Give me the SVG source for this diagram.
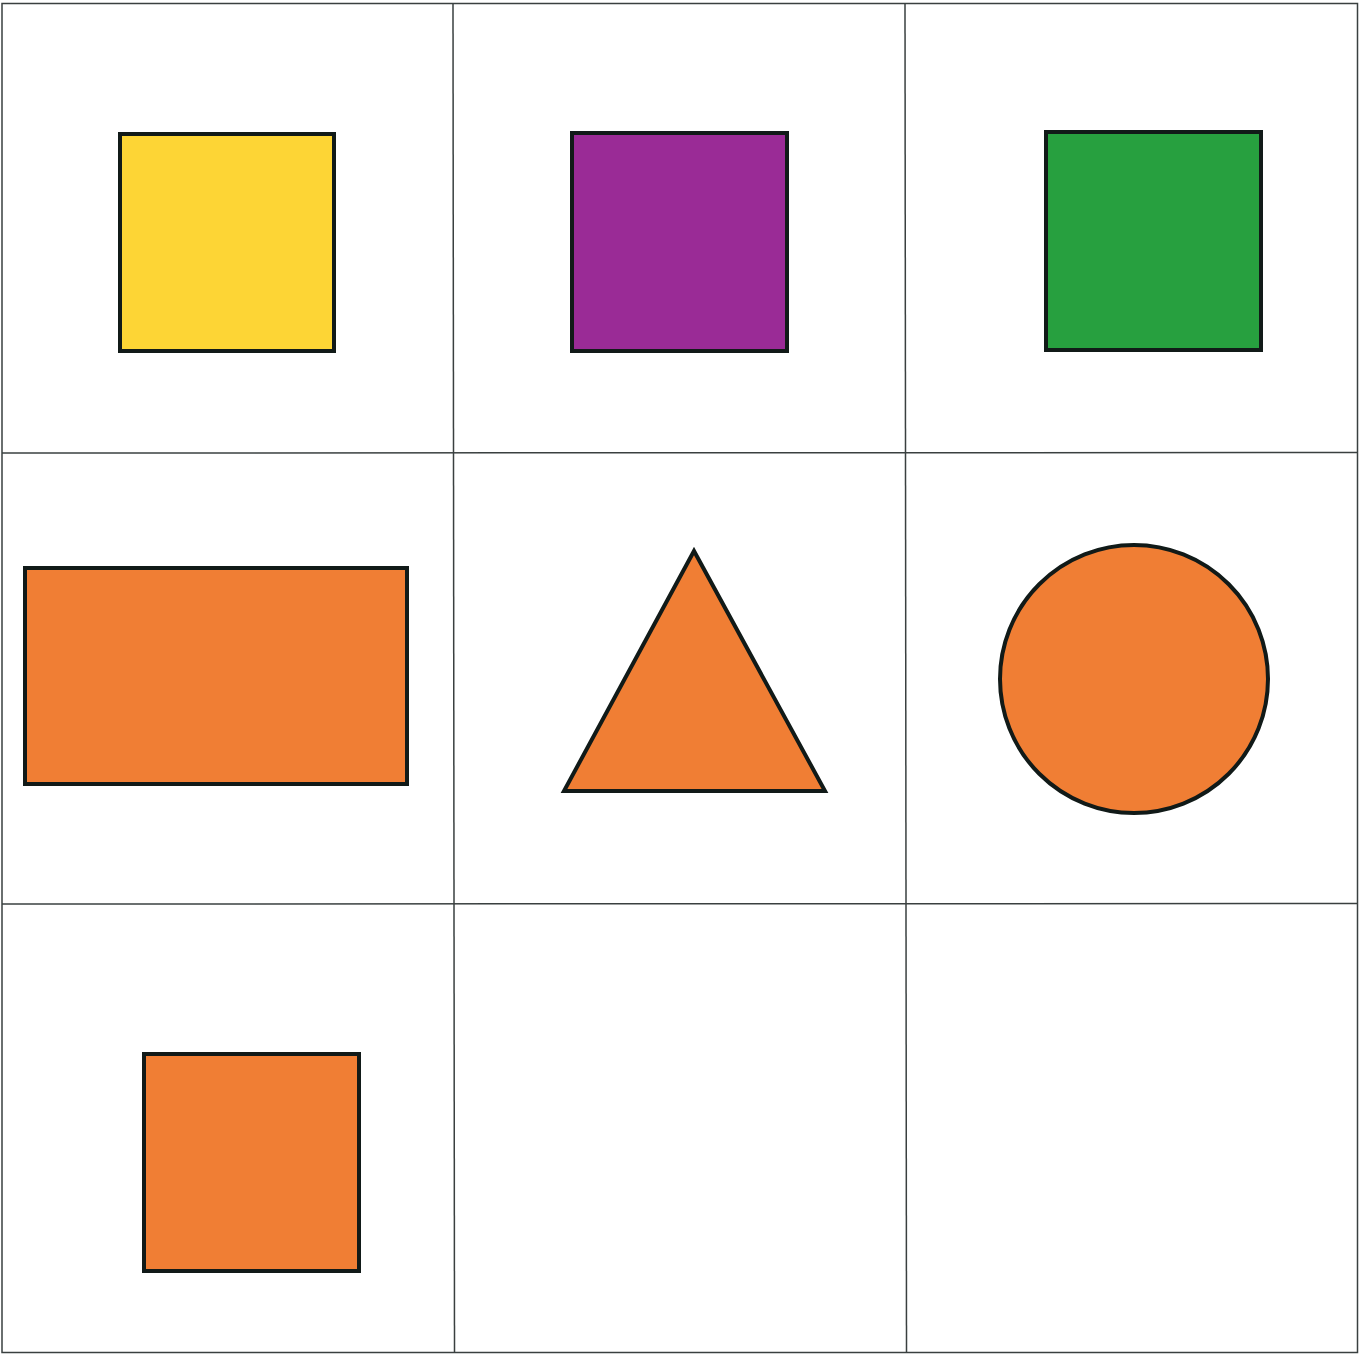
<svg xmlns="http://www.w3.org/2000/svg" width="1359" height="1354" viewBox="0 0 1359 1354">
<style>
.grid{stroke:#3a4040;stroke-width:1.5;fill:none}
.shape{stroke:#111a18;stroke-width:4;stroke-linejoin:miter}
.orange{fill:#F07E34}
</style>
<rect width="1359" height="1354" fill="#ffffff"/>
<g id="connectors">
<g id="grid" class="grid">
<rect x="2" y="3.5" width="1355.5" height="1349"/>
<line x1="453" y1="3.5" x2="454.5" y2="1352.5"/>
<line x1="905" y1="3.5" x2="906.5" y2="1352.5"/>
<line x1="2" y1="453" x2="1357.5" y2="452.5"/>
<line x1="2" y1="904" x2="1357.5" y2="903.5"/>
</g>
</g>
<g id="yellow-square"><rect class="shape" x="120" y="134" width="214" height="217" fill="#FDD535"/></g>
<g id="purple-square"><rect class="shape" x="572" y="133" width="215" height="218" fill="#9A2B96"/></g>
<g id="green-square"><rect class="shape" x="1046" y="132" width="215" height="218" fill="#27A03F"/></g>
<g id="orange-rectangle"><rect class="shape orange" x="25" y="568" width="382" height="216"/></g>
<g id="orange-triangle"><polygon class="shape orange" points="694,551 564,791 825,791"/></g>
<g id="orange-circle"><circle class="shape orange" cx="1134" cy="679" r="134"/></g>
<g id="orange-square"><rect class="shape orange" x="144" y="1054" width="215" height="217"/></g>
</svg>
